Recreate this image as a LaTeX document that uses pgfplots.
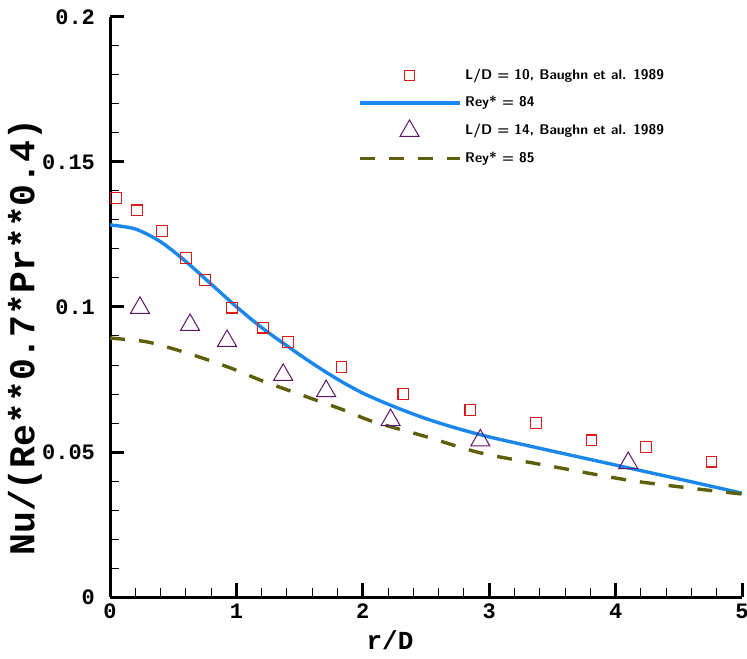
\documentclass[border=0pt]{standalone}
\usepackage{fontspec}
\setmainfont{Liberation Sans}
\setmonofont{Liberation Mono}
\usepackage{pgfplots}
\pgfplotsset{compat=1.18}
\usetikzlibrary{calc}
\definecolor{sqred}{RGB}{220,25,25}
\definecolor{linblue}{RGB}{25,135,235}
\definecolor{tripurple}{RGB}{95,20,105}
\definecolor{olivedash}{RGB}{95,95,10}

\begin{document}
\begin{tikzpicture}
\begin{axis}[
  scale only axis,
  width=316pt, height=290pt,
  xmin=0, xmax=5, ymin=0, ymax=0.2,
  axis x line*=bottom, axis y line*=left,
  axis line style={line width=1.5pt, -},
  xtick={0,1,2,3,4,5}, xticklabels={0,1,2,3,4,5},
  ytick={0,0.05,0.1,0.15,0.2}, yticklabels={0,0.05,0.1,0.15,0.2},
  minor x tick num=4, minor y tick num=4,
  tick align=inside,
  major tick length=7pt, minor tick length=4.5pt,
  major tick style={line width=1.5pt, black},
  minor tick style={line width=0.5pt, black},
  tick label style={font=\ttfamily\bfseries\fontsize{11}{12}\selectfont},
  yticklabel shift=4pt,
  xlabel={r/D}, ylabel={Nu/(Re**0.7*Pr**0.4)},
  xlabel style={font=\ttfamily\bfseries\fontsize{13}{14}\selectfont, at={(rel axis cs:0.443,0)}, anchor=center, yshift=-21.5pt},
  ylabel style={font=\ttfamily\bfseries\fontsize{18.2}{19}\selectfont, at={(rel axis cs:0,0.448)}, anchor=center, yshift=42.5pt},
  legend style={draw=none, fill=none, at={(rel axis cs:0.382,0.925)}, anchor=north west,
    font=\sffamily\bfseries\fontsize{7}{8}\selectfont, row sep=3pt},
  legend cell align=left,
  legend image code/.code={\draw[mark repeat=2, mark phase=2, #1] plot coordinates {(0pt,0pt) (25pt,0pt) (50pt,0pt)};},
]

% L/D = 10 data
\addplot[only marks, mark=square, mark size=2.6pt, mark options={draw=sqred, line width=0.6pt, fill=none}] coordinates {
  (0.047,0.1376) (0.214,0.1334) (0.411,0.1262) (0.601,0.1169) (0.752,0.1093)
  (0.965,0.0997) (1.21,0.0928) (1.408,0.0879) (1.83,0.0793) (2.32,0.0700)
  (2.85,0.0645) (3.37,0.0600) (3.81,0.0541) (4.24,0.0517) (4.76,0.0466)
};
\addlegendentry{L/D = 10, Baughn et al. 1989}

% Rey* = 84
\addplot[linblue, line width=1.7pt, smooth, tension=0.5] coordinates {
  (0,0.1283) (0.2,0.1269) (0.4,0.1225) (0.6,0.1157) (0.8,0.1079) (1.0,0.1001)
  (1.2,0.0929) (1.4,0.0866) (1.6,0.0806) (1.8,0.0751) (2.0,0.0703) (2.25,0.0656)
  (2.5,0.0615) (2.75,0.0581) (3.0,0.0552) (3.5,0.0503) (4.0,0.0455) (4.5,0.0407) (5,0.0358)
};
\addlegendentry{Rey* = 84}

% L/D = 14 data
\addplot[only marks, mark=triangle, mark size=5.5pt, mark options={draw=tripurple, line width=0.5pt, fill=none}] coordinates {
  (0.237,0.0997) (0.633,0.0938) (0.926,0.0883) (1.37,0.0766) (1.71,0.0710)
  (2.22,0.0610) (2.93,0.0540) (4.10,0.0462)
};
\addlegendentry{L/D = 14, Baughn et al. 1989}

% Rey* = 85
\addplot[olivedash, line width=1.7pt, dash pattern=on 7.5pt off 7pt, smooth, tension=0.5] coordinates {
  (0,0.0893) (0.08,0.0890) (0.29,0.0880) (0.514,0.0854) (0.752,0.0821) (0.976,0.0786)
  (1.2,0.0746) (1.41,0.0713) (1.635,0.0678) (1.86,0.0643) (2.08,0.0605) (2.5,0.0553)
  (2.93,0.0497) (3.5,0.0450) (4.1,0.0403) (4.6,0.0375) (5,0.0355)
};
\addlegendentry{Rey* = 85}

\coordinate (O) at (axis cs:0,0);
\end{axis}
\pgfresetboundingbox
\path[use as bounding box] ($(O)+(-55pt,-30.5pt)$) rectangle ($(O)+(318.5pt,298.5pt)$);
\end{tikzpicture}
\end{document}
